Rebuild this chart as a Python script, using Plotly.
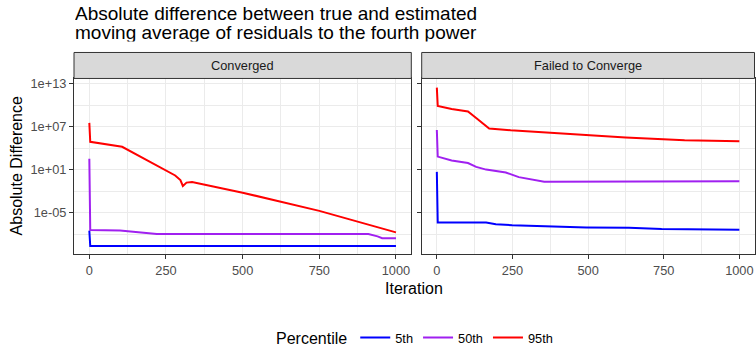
import plotly.graph_objects as go

# ---- data ----
facets = ["Converged", "Failed to Converge"]
percentiles = ["5th", "50th", "95th"]
colors = {"5th": "#0000FF", "50th": "#A020F0", "95th": "#FF0000"}

conv_5th_x = [0, 3, 1000]
conv_5th_y = [3.2e-8, 2.2e-10, 2.2e-10]
conv_50th_x = [0, 3, 100, 220, 250, 910, 940, 955, 1000]
conv_50th_y = [340, 3.8e-8, 3.4e-8, 1.1e-8, 1.07e-8, 1.07e-8, 5e-9, 2.8e-9, 2.8e-9]
conv_95th_x = [0, 3, 107, 232, 260, 280, 297, 305, 317, 335, 500, 689, 750, 1000]
conv_95th_y = [3.5e7, 8.0e4, 1.6e4, 25, 5.6, 1.6, 0.36, 0.055, 0.16, 0.19,
               6.3e-3, 7.9e-5, 1.8e-5, 1.8e-8]

fail_5th_x = [0, 3, 163, 195, 249, 494, 635, 743, 1000]
fail_5th_y = [5.1, 4.3e-7, 4.3e-7, 2.5e-7, 1.8e-7, 8.9e-8, 7.9e-8, 5.2e-8, 4.3e-8]
fail_50th_x = [0, 3, 49, 103, 130, 163, 228, 271, 355, 1000]
fail_50th_y = [3.5e6, 690, 200, 87, 25, 10.5, 4.1, 0.93, 0.22, 0.24]
fail_95th_x = [0, 3, 49, 103, 130, 173, 244, 494, 624, 819, 1000]
fail_95th_y = [3.0e12, 8.3e9, 3.0e9, 1.4e9, 1.7e8, 5.9e6, 3.2e6, 6.5e5, 3.2e5, 1.35e5, 9.8e4]

x_ticks = [0, 250, 500, 750, 1000]
x_minor = [125, 375, 625, 875]
y_ticks = [1e-5, 1e1, 1e7, 1e13]
y_ticktext = ["1e-05", "1e+01", "1e+07", "1e+13"]
y_minor = [1e-8, 1e-2, 1e4, 1e10]

title_lines = ["Absolute difference between true and estimated",
               "moving average of residuals to the fourth power"]

series = {
    ("Converged", "5th"): (conv_5th_x, conv_5th_y),
    ("Converged", "50th"): (conv_50th_x, conv_50th_y),
    ("Converged", "95th"): (conv_95th_x, conv_95th_y),
    ("Failed to Converge", "5th"): (fail_5th_x, fail_5th_y),
    ("Failed to Converge", "50th"): (fail_50th_x, fail_50th_y),
    ("Failed to Converge", "95th"): (fail_95th_x, fail_95th_y),
}

W, H = 756, 354
FONT = "Liberation Sans, Arial, sans-serif"
TICK_SIZE = 12.8
AXTITLE_SIZE = 16
TITLE_SIZE = 19

def px_x(p):
    return p / W

def px_y(p):
    return 1 - p / H

panel_top, panel_bot = 78, 257.5
strip_top = 51.5
domains_x = [(74, 411.3), (421.7, 754.5)]

fig = go.Figure()
for i, facet in enumerate(facets):
    ax = "" if i == 0 else "2"
    for p in percentiles:
        xs, ys = series[(facet, p)]
        fig.add_trace(go.Scatter(
            x=xs, y=ys, mode="lines", name=p,
            line=dict(color=colors[p], width=2),
            xaxis="x" + ax, yaxis="y" + ax,
            showlegend=(i == 0), legendgroup=p,
        ))

axis_common = dict(
    showline=True, linecolor="#333333", linewidth=1, mirror=True,
    ticks="outside", ticklen=4, tickcolor="#333333", tickwidth=1,
    showgrid=True, gridcolor="#EBEBEB", gridwidth=1.1,
    zeroline=False,
    tickfont=dict(family=FONT, size=TICK_SIZE, color="#4D4D4D"),
)

layout = dict(
    width=W, height=H,
    margin=dict(l=0, r=0, t=0, b=0),
    paper_bgcolor="white", plot_bgcolor="white",
    font=dict(family=FONT),
    showlegend=True,
    legend=dict(
        orientation="h", x=px_x(416), xanchor="center",
        y=px_y(343), yanchor="middle",
        title=dict(text="Percentile", side="left", font=dict(family=FONT, size=AXTITLE_SIZE, color="black")),
        font=dict(family=FONT, size=TICK_SIZE, color="black"),
        bgcolor="rgba(0,0,0,0)",
    ),
)

shapes = []
annotations = []
for i, facet in enumerate(facets):
    suf = "" if i == 0 else "2"
    x0, x1 = domains_x[i]
    layout["xaxis" + suf] = dict(
        axis_common,
        domain=[px_x(x0), px_x(x1)], range=[-50, 1050],
        tickvals=x_ticks, ticktext=[str(v) for v in x_ticks],
        anchor="y" + suf,
        minor=dict(tickvals=x_minor, showgrid=True, gridcolor="#EBEBEB", gridwidth=0.6, ticks=""),
    )
    layout["yaxis" + suf] = dict(
        axis_common,
        type="log",
        domain=[px_y(panel_bot), px_y(panel_top)], range=[-10.82, 13.75],
        tickvals=y_ticks, ticktext=y_ticktext,
        showticklabels=(i == 0),
        anchor="x" + suf,
        minor=dict(tickvals=y_minor, showgrid=True, gridcolor="#EBEBEB", gridwidth=0.6, ticks=""),
    )
    shapes.append(dict(
        type="rect", xref="paper", yref="paper",
        x0=px_x(x0), x1=px_x(x1), y0=px_y(panel_top), y1=px_y(strip_top),
        fillcolor="#D9D9D9", line=dict(color="#333333", width=1), layer="above",
    ))
    annotations.append(dict(
        text=facet, xref="paper", yref="paper",
        x=px_x((x0 + x1) / 2), y=px_y((panel_top + strip_top) / 2),
        xanchor="center", yanchor="middle", showarrow=False,
        font=dict(family=FONT, size=TICK_SIZE, color="#1A1A1A"),
    ))

# title: two lines with ggplot's tight line height
for k, (line, top) in enumerate(zip(title_lines, [0, 19])):
    annotations.append(dict(
        text=line, xref="paper", yref="paper", x=px_x(73), y=px_y(top),
        xanchor="left", yanchor="top", align="left", valign="middle",
        height=18.5, showarrow=False,
        font=dict(family=FONT, size=TITLE_SIZE, color="black"),
    ))
annotations.append(dict(
    text="Absolute Difference", xref="paper", yref="paper",
    x=px_x(16), y=px_y((panel_top + panel_bot) / 2), textangle=-90,
    xanchor="center", yanchor="middle", showarrow=False,
    font=dict(family=FONT, size=AXTITLE_SIZE, color="black"),
))
annotations.append(dict(
    text="Iteration", xref="paper", yref="paper",
    x=px_x(414), y=px_y(292),
    xanchor="center", yanchor="middle", showarrow=False,
    font=dict(family=FONT, size=AXTITLE_SIZE, color="black"),
))

layout["shapes"] = shapes
layout["annotations"] = annotations
fig.update_layout(**layout)

fig.write_html("out.html")
